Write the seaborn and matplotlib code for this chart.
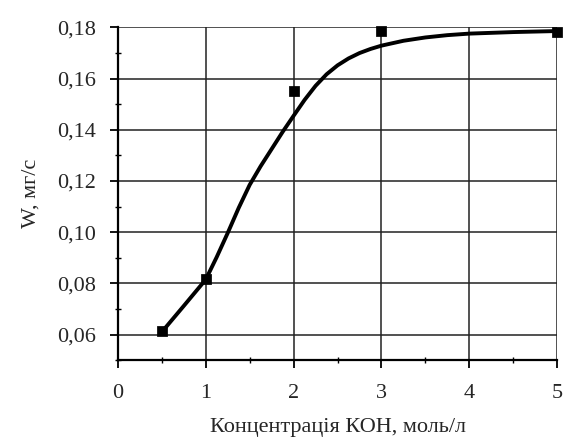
import matplotlib
matplotlib.use("Agg")
import matplotlib.pyplot as plt
import seaborn as sns
import pandas as pd
from matplotlib.ticker import MultipleLocator

# Measured points
conc_pts = [0.5, 1.0, 2.0, 3.0, 5.0]
w_pts = [0.0613, 0.0817, 0.1553, 0.1788, 0.1781]

# Fitted curve
conc_curve = [0.5, 0.75, 1.0, 1.125, 1.25, 1.375, 1.5, 1.625, 1.75, 1.875, 2.0, 2.125,
              2.25, 2.375, 2.5, 2.625, 2.75, 2.875, 3.0, 3.25, 3.5, 3.75, 4.0, 4.5, 5.0]
w_curve = [0.061, 0.0712, 0.0815, 0.0903, 0.0997, 0.1095, 0.1185, 0.1258, 0.1325, 0.1392,
           0.1455, 0.1517, 0.1572, 0.1617, 0.1652, 0.1679, 0.1700, 0.1716, 0.1729, 0.1748,
           0.1761, 0.1770, 0.1776, 0.1782, 0.1786]

x_ticks = [0, 1, 2, 3, 4, 5]
x_labels = ["0", "1", "2", "3", "4", "5"]
y_ticks = [0.06, 0.08, 0.10, 0.12, 0.14, 0.16, 0.18]
y_labels = ["0,06", "0,08", "0,10", "0,12", "0,14", "0,16", "0,18"]

xlabel = "Концентрація КОН, моль/л"
ylabel = "W, мг/с"

sns.set_style("white")
plt.rcParams["font.family"] = ["Liberation Serif", "DejaVu Serif"]

fig = plt.figure(figsize=(5.64, 4.43), dpi=100)
ax = fig.add_axes([0.209, 0.187, 0.779, 0.751])

df_pts = pd.DataFrame({"c": conc_pts, "w": w_pts})
df_curve = pd.DataFrame({"c": conc_curve, "w": w_curve})

sns.lineplot(data=df_curve, x="c", y="w", ax=ax, color="black", linewidth=2.8, zorder=3)
sns.scatterplot(data=df_pts, x="c", y="w", ax=ax, color="black", marker="s", s=45,
                edgecolor="black", zorder=4, clip_on=False)

ax.set_xlim(0, 5)
ax.set_ylim(0.05, 0.18)
ax.set_xticks(x_ticks)
ax.set_xticklabels(x_labels)
ax.set_yticks(y_ticks)
ax.set_yticklabels(y_labels)
ax.xaxis.set_minor_locator(MultipleLocator(0.5))
ax.yaxis.set_minor_locator(MultipleLocator(0.01))

ax.grid(True, which="major", color="#222222", linewidth=1.1)
for sp in ["top", "right"]:
    ax.spines[sp].set_visible(False)
for sp in ["left", "bottom"]:
    ax.spines[sp].set_color("black")
    ax.spines[sp].set_linewidth(1.6)

ax.tick_params(axis="both", which="major", direction="out", length=6, width=1.3,
               color="black", labelsize=16, left=True, bottom=True)
ax.tick_params(axis="y", which="major", pad=10)
ax.tick_params(axis="x", which="major", pad=11)
ax.tick_params(axis="both", which="minor", direction="inout", length=4, width=1.0,
               color="black", left=True, bottom=True)

ax.set_xlabel(xlabel, fontsize=16, labelpad=11)
ax.set_ylabel(ylabel, fontsize=16, labelpad=12)

fig.savefig("out.png", dpi=100)
